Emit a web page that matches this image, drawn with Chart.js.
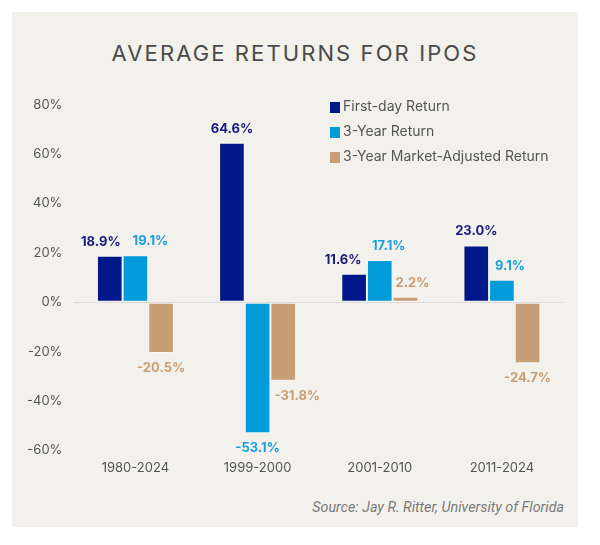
<!DOCTYPE html>
<html>
<head>
<meta charset="utf-8">
<script src="https://cdn.jsdelivr.net/npm/chart.js@4"></script>
<style>
    body { margin: 0; background: #fff; font-family: "Inter", "Roboto", sans-serif; }
    #painel {
        position: absolute; left: 12px; top: 12px; width: 566px; height: 515px;
        background: #f3f1ec;
    }
    #titulo {
        position: absolute; left: 0; top: 28px; width: 566px; text-align: center;
        font-size: 22px; letter-spacing: 2.1px; color: #4a4a4a; font-weight: 400;
        margin: 0;
    }
    #grafico { position: absolute; left: 0; top: 73px; width: 566px; height: 410px; }
    #fonte {
        position: absolute; right: 14px; top: 487px;
        font-family: Roboto, sans-serif;
        font-size: 14.3px; font-style: italic; color: #7a7a7a;
    }
</style>
</head>
<body>
<div id="painel">
    <h1 id="titulo">AVERAGE RETURNS FOR IPOS</h1>
    <div id="grafico"><canvas id="myChart"></canvas></div>
    <div id="fonte">Source: Jay R. Ritter, University of Florida</div>
</div>
<script>
const periodos = ["1980-2024", "1999-2000", "2001-2010", "2011-2024"];
const primeiroDia = [18.9, 64.6, 11.6, 23.0];
const tresAnos = [19.1, -53.1, 17.1, 9.1];
const tresAnosAjustado = [-20.5, -31.8, 2.2, -24.7];
const ticksY = [-60, -40, -20, 0, 20, 40, 60, 80];

const cores = ["#00188a", "#009bd8", "#c89e74"];
const coresTexto = ["#1a1a80", "#1a9ee0", "#c89e74"];

// deslocamento horizontal dos rótulos, como no original
const deslocRotulo = [
    [-9, 0, -11, 0],
    [15, 0, 9, 8],
    [0, 14, 7, 0]
];

const rotulosBarras = {
    id: "rotulosBarras",
    afterDatasetsDraw(chart) {
        const c = chart.ctx;
        c.save();
        c.font = "bold 13px Inter, Roboto, sans-serif";
        c.textAlign = "center";
        c.textBaseline = "middle";
        chart.data.datasets.forEach((ds, i) => {
            const meta = chart.getDatasetMeta(i);
            meta.data.forEach((bar, j) => {
                const v = ds.data[j];
                c.fillStyle = coresTexto[i];
                const x = bar.x + deslocRotulo[i][j];
                const y = v >= 0 ? bar.y - 14 : bar.y + 15;
                c.fillText(v.toFixed(1) + "%", x, y);
            });
        });
        c.restore();
    }
};

const legendaInterna = {
    id: "legendaInterna",
    afterDraw(chart) {
        const c = chart.ctx;
        c.save();
        c.font = "14px Inter, Roboto, sans-serif";
        c.textBaseline = "middle";
        c.textAlign = "left";
        chart.data.datasets.forEach((ds, i) => {
            const y = 22 + i * 25;
            c.fillStyle = cores[i];
            c.fillRect(318, y - 5, 10, 11);
            c.fillStyle = "#555";
            c.fillText(ds.label, 331, y);
        });
        c.restore();
    }
};

const ctx = document.getElementById("myChart");

new Chart(ctx, {
    type: "bar",
    data: {
        labels: periodos,
        datasets: [
            { label: "First-day Return", data: primeiroDia, backgroundColor: cores[0] },
            { label: "3-Year Return", data: tresAnos, backgroundColor: cores[1] },
            { label: "3-Year Market-Adjusted Return", data: tresAnosAjustado, backgroundColor: cores[2] }
        ]
    },
    options: {
        responsive: true,
        maintainAspectRatio: false,
        animation: false,
        layout: { padding: { left: 3, right: 15, top: 8, bottom: 17 } },
        datasets: {
            bar: {
                categoryPercentage: 0.63,
                barPercentage: 1,
                borderWidth: 1,
                borderColor: "rgba(255,255,255,0.35)",
                borderSkipped: false
            }
        },
        plugins: {
            legend: { display: false },
            tooltip: { enabled: false }
        },
        scales: {
            x: {
                grid: { display: false },
                border: { display: false },
                ticks: { color: "#555", font: { size: 13, family: "Inter, Roboto, sans-serif" }, padding: 2 }
            },
            y: {
                min: -60,
                max: 80,
                afterBuildTicks(axis) {
                    axis.ticks = ticksY.map(v => ({ value: v }));
                },
                grid: {
                    color: c => c.tick && c.tick.value === 0 ? "#dcdcdc" : "rgba(0,0,0,0)",
                    drawTicks: false
                },
                border: { display: false },
                ticks: {
                    color: "#555",
                    font: { size: 13, family: "Inter, Roboto, sans-serif" },
                    padding: 12,
                    callback: v => v + "%"
                }
            }
        }
    },
    plugins: [rotulosBarras, legendaInterna]
});
</script>
</body>
</html>
